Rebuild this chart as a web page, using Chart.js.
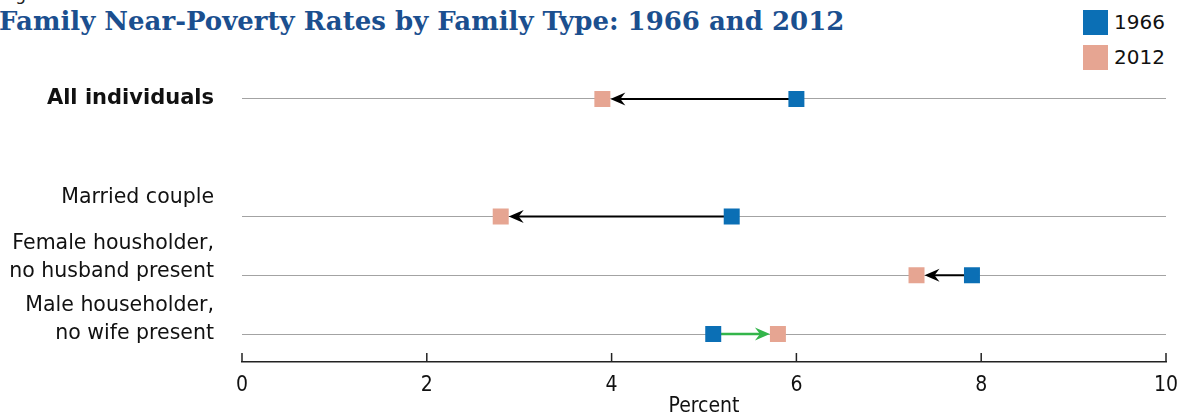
<!DOCTYPE html>
<html>
<head>
<meta charset="utf-8">
<script src="https://cdn.jsdelivr.net/npm/chart.js@4.4.0/dist/chart.umd.min.js"></script>
<style>
  html, body { margin: 0; padding: 0; background: #fff; }
  #wrap { position: relative; width: 1180px; height: 413px; overflow: hidden; }
  #fig { position: absolute; left: 2px; top: -16px; font: 17px "DejaVu Sans"; color: #222; }
  #title { position: absolute; left: -1px; top: 6px; font: bold 26px "DejaVu Serif"; color: #1b4f8f; white-space: nowrap; }
  .leg { position: absolute; left: 1083px; font: 20px "DejaVu Sans"; color: #111; line-height: 25px; }
  .leg span { display: inline-block; width: 25px; height: 25px; vertical-align: top; margin-right: 6px; }
  canvas { position: absolute; left: 0; top: 0; }
</style>
</head>
<body>
<div id="wrap">
  <div id="fig">Figure 6</div>
  <div id="title">Family Near-Poverty Rates by Family Type: 1966 and 2012</div>
  <div class="leg" style="top:10px"><span style="background:#0b6fb5"></span>1966</div>
  <div class="leg" style="top:45px"><span style="background:#e6a592"></span>2012</div>
  <canvas id="chart" width="1180" height="413"></canvas>
</div>
<script>
// --- DATA ---
// empty category keeps the gap under "All individuals"
const categories = ['All individuals', '', 'Married couple', 'Female housholder,\nno husband present', 'Male householder,\nno wife present'];
const rate1966 = [6.0, null, 5.3, 7.9, 5.1];
const rate2012 = [3.9, null, 2.8, 7.3, 5.8];
const xTicks = [0, 2, 4, 6, 8, 10];

// --- STYLE ---
const BLUE = '#0b6fb5';
const SALMON = '#e6a592';
const GREEN = '#33b54a';
const labelLift = [0, 0, 19, 4, 0];   // px the last label line sits above its row
const tickFont = { family: '"Liberation Sans Narrow", "DejaVu Sans Condensed", sans-serif', size: 21 };

function points(vals) {
    return vals.map((v, i) => v == null ? null : { x: v, y: i }).filter(Boolean);
}

// arrows from 1966 to 2012
const arrowPlugin = {
    id: 'arrows',
    beforeDatasetsDraw(chart) {
        const { ctx, scales: { x, y } } = chart;
        categories.forEach((c, i) => {
            if (rate1966[i] == null) return;
            const x0 = x.getPixelForValue(rate1966[i]);
            const x1 = x.getPixelForValue(rate2012[i]);
            const py = y.getPixelForValue(i);
            const dir = x1 > x0 ? 1 : -1;
            const tip = x1 - dir * 8;
            const color = dir > 0 ? GREEN : '#000';
            ctx.save();
            ctx.strokeStyle = color;
            ctx.fillStyle = color;
            ctx.lineWidth = dir > 0 ? 2.5 : 2;
            ctx.beginPath();
            ctx.moveTo(x0, py);
            ctx.lineTo(tip - dir * 8, py);
            ctx.stroke();
            ctx.beginPath();
            ctx.moveTo(tip, py);
            ctx.lineTo(tip - dir * 15, py - 6.5);
            ctx.lineTo(tip - dir * 10, py);
            ctx.lineTo(tip - dir * 15, py + 6.5);
            ctx.closePath();
            ctx.fill();
            ctx.restore();
        });
    }
};

// category labels + upward tick marks on the x axis
const decorPlugin = {
    id: 'decor',
    afterDraw(chart) {
        const { ctx, scales: { x, y }, chartArea } = chart;
        ctx.save();
        ctx.textAlign = 'right';
        ctx.textBaseline = 'middle';
        ctx.fillStyle = '#111';
        categories.forEach((c, i) => {
            if (!c) return;
            const lines = c.split('\n');
            ctx.font = i === 0 ? 'bold 21px "DejaVu Sans"' : '20.5px "DejaVu Sans"';
            const base = y.getPixelForValue(i) - labelLift[i];
            lines.forEach((ln, k) => {
                ctx.fillText(ln, 214, base - (lines.length - 1 - k) * 28);
            });
        });
        ctx.strokeStyle = '#222';
        ctx.lineWidth = 1.5;
        xTicks.forEach(v => {
            const px = x.getPixelForValue(v);
            ctx.beginPath();
            ctx.moveTo(px, chartArea.bottom);
            ctx.lineTo(px, chartArea.bottom - 9);
            ctx.stroke();
        });
        ctx.restore();
    }
};

new Chart(document.getElementById('chart'), {
    type: 'scatter',
    data: {
        datasets: [
            { label: '1966', data: points(rate1966), backgroundColor: BLUE, borderWidth: 0, pointStyle: 'rect', pointRadius: 11.3, pointHoverRadius: 11.3 },
            { label: '2012', data: points(rate2012), backgroundColor: SALMON, borderWidth: 0, pointStyle: 'rect', pointRadius: 11.3, pointHoverRadius: 11.3 }
        ]
    },
    options: {
        responsive: false,
        animation: false,
        layout: { padding: { left: 242, right: 14, top: 69.5, bottom: 0 } },
        plugins: { legend: { display: false }, tooltip: { enabled: false } },
        scales: {
            x: {
                type: 'linear', min: 0, max: 10,
                afterBuildTicks: s => { s.ticks = xTicks.map(v => ({ value: v })); },
                afterFit: s => { s.height = 51; s.paddingLeft = 0; s.paddingRight = 0; },
                grid: { display: false, drawTicks: false },
                border: { display: true, color: '#222', width: 1.5 },
                ticks: { font: tickFont, color: '#111', padding: 11 },
                title: { display: true, text: 'Percent', font: tickFont, color: '#111', padding: { top: 0, bottom: -6 } }
            },
            y: {
                type: 'linear', reverse: true, min: -0.5, max: 4.475,
                afterBuildTicks: s => { s.ticks = categories.map((c, i) => c ? { value: i } : null).filter(Boolean); },
                afterFit: s => { s.width = 0; },
                grid: { color: '#a3a3a3', lineWidth: 1, drawTicks: false },
                border: { display: false },
                ticks: { display: false }
            }
        }
    },
    plugins: [arrowPlugin, decorPlugin]
});
</script>
</body>
</html>
